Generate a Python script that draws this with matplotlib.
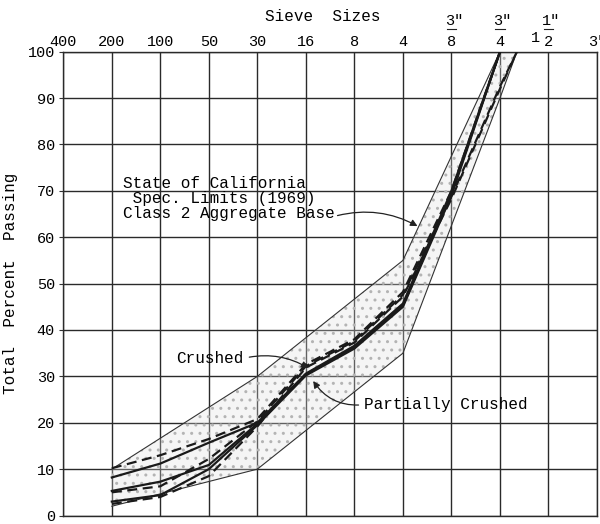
import numpy as np
import matplotlib
matplotlib.use("Agg")
import matplotlib.pyplot as plt
from matplotlib.transforms import blended_transform_factory

plt.rcParams["font.family"] = ["Liberation Mono", "DejaVu Sans Mono"]
plt.rcParams["hatch.linewidth"] = 1.0

# sieve labels along the top, evenly spaced; fractions as (whole, num, den)
sieve_labels = ["400", "200", "100", "50", "30", "16", "8", "4",
                ("", '3"', "8"), ("", '3"', "4"), ("1", '1"', "2"), '3"']
sieve_pos = np.arange(len(sieve_labels))
one_inch = 9.35  # 1" sieve sits between 3/4" and 1 1/2"

# spec limits (state of california, class 2 aggregate base)
upper_x = [1, 4, 7, 9]
upper_y = [10, 30, 55, 100]
lower_x = [1, 4, 7, 9, one_inch]
lower_y = [2, 10, 35, 90, 100]

# gradation curves: 200, 100, 50, 30, 16, 8, 4, 3/8, 3/4 (, 1")
curve_x = [1, 2, 3, 4, 5, 6, 7, 8, 9]
crushed = [
    [10.2, 13.0, 16.5, 20.8, 32.6, 38.0, 48.2, 70.0, 100.0],
    [5.0, 6.3, 12.2, 20.3, 32.2, 37.6, 47.6, 68.8, 92.5, 100.0],
    [2.5, 4.0, 8.5, 19.2, 31.9, 37.3, 47.2, 68.3, 92.0, 100.0],
]
partial = [
    [8.2, 11.2, 15.7, 20.0, 30.6, 36.6, 45.7, 70.0, 100.0],
    [5.3, 7.3, 10.9, 19.8, 30.4, 36.3, 45.3, 69.5, 100.0],
    [3.0, 4.4, 10.0, 19.5, 30.2, 36.0, 45.0, 69.0, 100.0],
]

fig = plt.figure(figsize=(6.0, 5.24), dpi=100)
ax = fig.add_axes([0.1055, 0.0162, 0.8895, 0.8851])

# stippled band between the spec limits
band_x = np.array(lower_x, dtype=float)
band_hi = np.interp(band_x, upper_x, upper_y, right=100)
band_lo = np.array(lower_y, dtype=float)
ax.fill_between(band_x, band_lo, band_hi, facecolor=(0.88, 0.88, 0.88, 0.3),
                hatch="..", edgecolor="#b4b4b4", linewidth=0, zorder=1)
ax.plot(upper_x, upper_y, color="#333333", lw=0.8, zorder=2)
ax.plot(lower_x, lower_y, color="#333333", lw=0.8, zorder=2)

for vals in crushed:
    xs = (curve_x + [one_inch])[:len(vals)]
    ax.plot(xs, vals, color="#1a1a1a", lw=1.6, ls=(0, (4.5, 2.5)), zorder=3)
for vals in partial:
    ax.plot(curve_x, vals, color="#1a1a1a", lw=1.6, zorder=3)

ax.set_xlim(0, 11)
ax.set_ylim(0, 100)
ax.set_xticks(sieve_pos)
ax.set_xticklabels([s if isinstance(s, str) else "" for s in sieve_labels],
                   fontsize=11)
ax.xaxis.tick_top()
ax.tick_params(axis="x", length=0, pad=2)

# stacked fraction labels drawn by hand
trans = blended_transform_factory(ax.transData, ax.transAxes)
for pos, lab in zip(sieve_pos, sieve_labels):
    if isinstance(lab, str):
        continue
    whole, num, den = lab
    ax.text(pos + 0.05, 1.052, num, transform=trans, ha="center",
            va="bottom", fontsize=11, clip_on=False)
    ax.text(pos, 1.005, den, transform=trans, ha="center", va="bottom",
            fontsize=11, clip_on=False)
    ax.plot([pos - 0.1, pos + 0.1], [1.05, 1.05], transform=trans,
            color="#222222", lw=0.8, clip_on=False)
    if whole:
        ax.text(pos - 0.18, 1.03, whole, transform=trans, ha="right",
                va="center", fontsize=11, clip_on=False)

ax.set_yticks(np.arange(0, 101, 10))
ax.tick_params(axis="y", length=3, labelsize=11, pad=3, color="#333333")
ax.grid(True, color="#2a2a2a", lw=1.0)
ax.set_axisbelow(True)
for sp in ax.spines.values():
    sp.set_color("#2a2a2a")
    sp.set_linewidth(1.0)

ax.text(0.487, 1.075, "Sieve  Sizes", transform=ax.transAxes,
        ha="center", va="center", fontsize=11.5)
ax.set_ylabel("Total  Percent  Passing", fontsize=11.5)
ax.yaxis.set_label_coords(-0.085, 0.5)

# annotations
ax.annotate("State of California\n Spec. Limits (1969)\nClass 2 Aggregate Base",
            xy=(7.3, 62.4), xytext=(1.23, 68.4), fontsize=11.5,
            ha="left", va="center", linespacing=1.0,
            arrowprops=dict(arrowstyle="-|>", color="#222222", lw=0.9,
                            mutation_scale=10, shrinkA=0, shrinkB=0,
                            relpos=(1.0, 0.1),
                            connectionstyle="arc3,rad=-0.2"))
ax.annotate("Crushed", xy=(5.05, 31.8), xytext=(3.72, 33.9), fontsize=11.5,
            ha="right", va="center",
            arrowprops=dict(arrowstyle="-|>", color="#222222", lw=0.9,
                            mutation_scale=10, shrinkA=2, shrinkB=0,
                            relpos=(1.0, 0.5),
                            connectionstyle="arc3,rad=-0.2"))
ax.annotate("Partially Crushed", xy=(5.15, 29.0), xytext=(6.2, 23.9),
            fontsize=11.5, ha="left", va="center",
            arrowprops=dict(arrowstyle="-|>", color="#222222", lw=0.9,
                            mutation_scale=10, shrinkA=2, shrinkB=0,
                            relpos=(0.0, 0.5),
                            connectionstyle="arc3,rad=-0.3"))

fig.savefig("out.png", dpi=100)
